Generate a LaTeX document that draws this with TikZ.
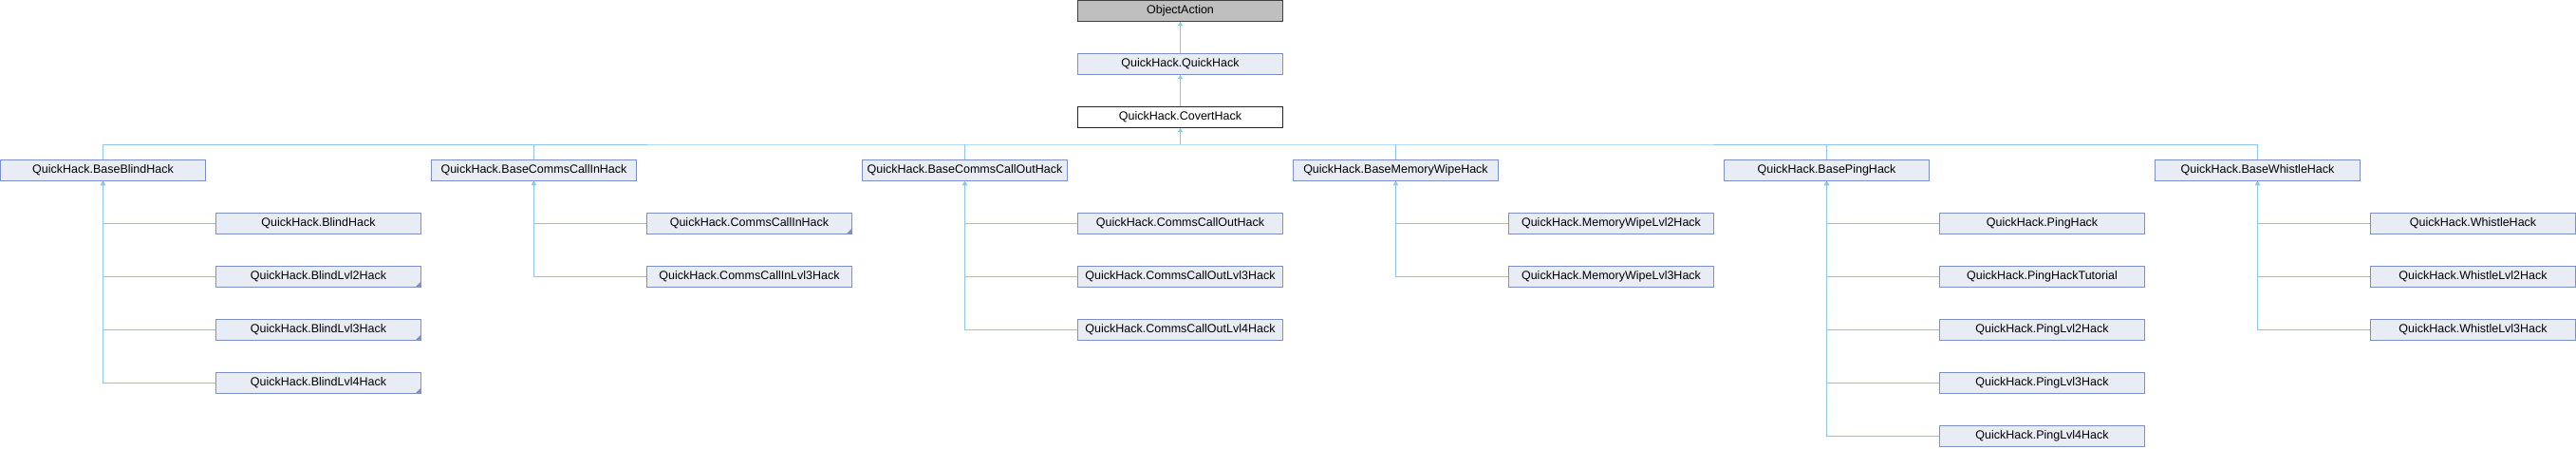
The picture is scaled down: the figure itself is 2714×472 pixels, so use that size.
\documentclass[tikz,border=0pt]{standalone}
\usepackage{fontspec}
\setmainfont{Liberation Sans}
\usetikzlibrary{arrows.meta}
\definecolor{boxfill}{HTML}{E8ECF5}
\definecolor{boxline}{HTML}{7B8FC9}
\definecolor{edgecol}{HTML}{8CC7EA}
\definecolor{rootfill}{HTML}{BFBFBF}
\definecolor{rootline}{HTML}{404040}
\begin{document}
\begin{tikzpicture}[x=1pt,y=1pt,
  cls/.style={draw=boxline,fill=boxfill,line width=1pt,minimum width=216pt,minimum height=22pt,inner sep=0pt,font=\fontsize{12.5}{14}\selectfont},
  rootbox/.style={cls,draw=rootline,fill=rootfill},
  curbox/.style={cls,draw=black!85,fill=white},
  more/.style={path picture={\fill[boxline] (path picture bounding box.south east) -- ++(-6pt,0) -- ++(6pt,6pt) -- cycle;}},
  lnk/.style={draw=edgecol,line width=1pt},
  arr/.style={lnk,-{Triangle[length=4pt,width=5pt]}}]
\useasboundingbox (0,0) rectangle (2714,-472);
% top chain
\node[rootbox] (obj) at (1243.5,-11.5) {ObjectAction};
\node[cls] (qh) at (1243.5,-67.5) {QuickHack.QuickHack};
\node[curbox] (cov) at (1243.5,-123.5) {QuickHack.CovertHack};
% base row
\node[cls] (b1) at (108.5,-179.5) {QuickHack.BaseBlindHack};
\node[cls] (b2) at (562.5,-179.5) {QuickHack.BaseCommsCallInHack};
\node[cls] (b3) at (1016.5,-179.5) {QuickHack.BaseCommsCallOutHack};
\node[cls] (b4) at (1470.5,-179.5) {QuickHack.BaseMemoryWipeHack};
\node[cls] (b5) at (1924.5,-179.5) {QuickHack.BasePingHack};
\node[cls] (b6) at (2378.5,-179.5) {QuickHack.BaseWhistleHack};
% children
\node[cls] (c11) at (335.5,-235.5) {QuickHack.BlindHack};
\node[cls,more] (c12) at (335.5,-291.5) {QuickHack.BlindLvl2Hack};
\node[cls,more] (c13) at (335.5,-347.5) {QuickHack.BlindLvl3Hack};
\node[cls,more] (c14) at (335.5,-403.5) {QuickHack.BlindLvl4Hack};
\node[cls,more] (c21) at (789.5,-235.5) {QuickHack.CommsCallInHack};
\node[cls] (c22) at (789.5,-291.5) {QuickHack.CommsCallInLvl3Hack};
\node[cls] (c31) at (1243.5,-235.5) {QuickHack.CommsCallOutHack};
\node[cls] (c32) at (1243.5,-291.5) {QuickHack.CommsCallOutLvl3Hack};
\node[cls] (c33) at (1243.5,-347.5) {QuickHack.CommsCallOutLvl4Hack};
\node[cls] (c41) at (1697.5,-235.5) {QuickHack.MemoryWipeLvl2Hack};
\node[cls] (c42) at (1697.5,-291.5) {QuickHack.MemoryWipeLvl3Hack};
\node[cls] (c51) at (2151.5,-235.5) {QuickHack.PingHack};
\node[cls] (c52) at (2151.5,-291.5) {QuickHack.PingHackTutorial};
\node[cls] (c53) at (2151.5,-347.5) {QuickHack.PingLvl2Hack};
\node[cls] (c54) at (2151.5,-403.5) {QuickHack.PingLvl3Hack};
\node[cls] (c55) at (2151.5,-459.5) {QuickHack.PingLvl4Hack};
\node[cls] (c61) at (2605.5,-235.5) {QuickHack.WhistleHack};
\node[cls] (c62) at (2605.5,-291.5) {QuickHack.WhistleLvl2Hack};
\node[cls] (c63) at (2605.5,-347.5) {QuickHack.WhistleLvl3Hack};
% top links
\draw[arr] (qh.north) -- (obj.south);
\draw[arr] (cov.north) -- (qh.south);
\coordinate (bus) at (1243.5,-152);
\draw[arr] (bus) -- (cov.south);
\draw[lnk] (b1.north) |- (bus) -| (b6.north);
\foreach \b in {b2,b3,b4,b5} \draw[lnk] (\b.north) -- (\b.north |- bus);
% child links
\foreach \c/\b in {c11/b1,c12/b1,c13/b1,c14/b1,c21/b2,c22/b2,c31/b3,c32/b3,c33/b3,c41/b4,c42/b4,c51/b5,c52/b5,c53/b5,c54/b5,c55/b5,c61/b6,c62/b6,c63/b6}
  \draw[arr] (\c.west) -| (\b.south);
\end{tikzpicture}
\end{document}
